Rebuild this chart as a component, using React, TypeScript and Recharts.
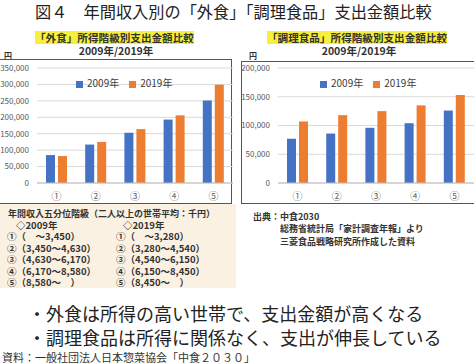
import { Bar, BarChart, CartesianGrid, Legend, XAxis, YAxis } from "recharts";

const categories = ["①", "②", "③", "④", "⑤"];
const gaishoku2009 = [85000, 117000, 153000, 193000, 251000];
const gaishoku2019 = [82000, 125000, 164000, 206000, 299000];
const chouri2009 = [77000, 86000, 96000, 104000, 126000];
const chouri2019 = [107000, 118000, 125000, 135000, 153000];
const gaishokuTicks = [0, 50000, 100000, 150000, 200000, 250000, 300000, 350000];
const chouriTicks = [0, 50000, 100000, 150000, 200000];

const incomeRows2009 = ["①（　～3,450）", "②（3,450～4,630）", "③（4,630～6,170）", "④（6,170～8,580）", "⑤（8,580～　）"];
const incomeRows2019 = ["①（　～3,280）", "②（3,280～4,540）", "③（4,540～6,150）", "④（6,150～8,450）", "⑤（8,450～　）"];

const BLUE = "#4472C4";
const ORANGE = "#ED7D31";
const FONT = '"Noto Sans CJK JP", "Noto Sans", sans-serif';

const fmt = (v: number) => v.toLocaleString("en-US");

function buildRows(a: number[], b: number[]) {
  return categories.map((c, i) => ({ name: c, y2009: a[i], y2019: b[i] }));
}

interface PanelProps {
  a: number[];
  b: number[];
  ticks: number[];
  width: number;
  axisWidth: number;
  legendLeft: number;
}

function Panel({ a, b, ticks, width, axisWidth, legendLeft }: PanelProps) {
  const data = buildRows(a, b);
  return (
    <BarChart
      width={width}
      height={144}
      data={data}
      margin={{ top: 9, right: 0, bottom: 0, left: 0 }}
      barSize={9}
      barGap={3}
    >
      <CartesianGrid vertical={false} stroke="#d9d9d9" />
      <XAxis
        dataKey="name"
        height={20}
        axisLine={{ stroke: "#bfbfbf" }}
        tickLine={false}
        tick={{ fill: "#595959", fontSize: 10 }}
        tickMargin={4}
      />
      <YAxis
        width={axisWidth}
        domain={[0, ticks[ticks.length - 1]]}
        ticks={ticks}
        axisLine={false}
        tickLine={false}
        tickSize={6}
        tickMargin={2}
        tickFormatter={fmt}
        tick={{ fill: "#595959", fontSize: 8 }}
        interval={0}
      />
      <Legend
        layout="horizontal"
        verticalAlign="middle"
        align="center"
        iconType="square"
        iconSize={7}
        wrapperStyle={{ top: 16, left: legendLeft, width: 90, fontSize: 10, color: "#404040" }}
        formatter={(v) => <span style={{ color: "#404040" }}>{v}</span>}
      />
      <Bar dataKey="y2009" name="2009年" fill={BLUE} isAnimationActive={false} />
      <Bar dataKey="y2019" name="2019年" fill={ORANGE} isAnimationActive={false} />
    </BarChart>
  );
}

const abs = (left: number, top: number, extra: React.CSSProperties = {}): React.CSSProperties => ({
  position: "absolute",
  left,
  top,
  whiteSpace: "nowrap",
  ...extra,
});

const small: React.CSSProperties = { fontSize: 9.5, lineHeight: "11px", fontWeight: 700, color: "#333" };

export default function App() {
  return (
    <div
      style={{
        position: "absolute",
        left: 0,
        top: 0,
        width: 474,
        height: 364,
        overflow: "hidden",
        background: "#ffffff",
        fontFamily: FONT,
        color: "#222",
      }}
    >
      <div style={abs(35, -1, { fontSize: 16.2, lineHeight: "24px" })}>
        図４　年間収入別の「外食」「調理食品」支出金額比較
      </div>

      {/* left panel */}
      <div style={abs(35, 31, { fontSize: 10.6, lineHeight: "13px", fontWeight: 700, background: "#F7F03A", color: "#333" })}>
        「外食」所得階級別支出金額比較
      </div>
      <div style={abs(0, 44, { width: 232, textAlign: "center", fontSize: 10.5, lineHeight: "13px", fontWeight: 700, color: "#333" })}>
        2009年/2019年
      </div>
      <div style={abs(4, 51, { fontSize: 8, lineHeight: "9px", fontWeight: 700, color: "#333" })}>円</div>
      <div style={abs(-1, 59, { width: 233, height: 145, border: "1px solid #555", boxSizing: "border-box" })} />
      <div style={abs(0, 59)}>
        <Panel a={gaishoku2009} b={gaishoku2019} ticks={gaishokuTicks} width={233} axisWidth={37} legendLeft={76} />
      </div>

      {/* right panel */}
      <div style={abs(267, 31, { fontSize: 10.6, lineHeight: "13px", fontWeight: 700, background: "#F7F03A", color: "#333" })}>
        「調理食品」所得階級別支出金額比較
      </div>
      <div style={abs(241, 44, { width: 236, textAlign: "center", fontSize: 10.5, lineHeight: "13px", fontWeight: 700, color: "#333" })}>
        2009年/2019年
      </div>
      <div style={abs(249, 51, { fontSize: 8, lineHeight: "9px", fontWeight: 700, color: "#333" })}>円</div>
      <div style={abs(241, 61, { width: 240, height: 143, border: "1px solid #555", boxSizing: "border-box" })} />
      <div style={abs(240, 59)}>
        <Panel a={chouri2009} b={chouri2019} ticks={chouriTicks} width={234} axisWidth={38} legendLeft={80} />
      </div>

      {/* income classes */}
      <div style={abs(0, 204, { width: 236, height: 84, background: "#FBF1E2" })} />
      <div style={abs(8, 208, { ...small, fontSize: 9 })}>年間収入五分位階級（二人以上の世帯平均：千円）</div>
      <div style={abs(16, 219.5, small)}>◇2009年</div>
      <div style={abs(123, 219.5, small)}>◇2019年</div>
      {incomeRows2009.map((r, i) => (
        <div key={"a" + i} style={abs(7, 231 + i * 11.5, small)}>
          {r}
        </div>
      ))}
      {incomeRows2019.map((r, i) => (
        <div key={"b" + i} style={abs(116, 231 + i * 11.5, small)}>
          {r}
        </div>
      ))}

      {/* source */}
      <div style={abs(253, 211, { ...small, fontSize: 9, lineHeight: "12px" })}>出典：中食2030</div>
      <div style={abs(280, 223, { ...small, fontSize: 9, lineHeight: "12px" })}>総務省統計局「家計調査年報」より</div>
      <div style={abs(280, 236, { ...small, fontSize: 9, lineHeight: "12px" })}>三菱食品戦略研究所作成した資料</div>

      {/* bullets */}
      <div style={abs(28, 301, { fontSize: 18, lineHeight: "24px" })}>・外食は所得の高い世帯で、支出金額が高くなる</div>
      <div style={abs(28, 326, { fontSize: 18, lineHeight: "22px" })}>・調理食品は所得に関係なく、支出が伸長している</div>
      <div style={abs(2, 351, { fontSize: 11, lineHeight: "13px", color: "#333" })}>資料：一般社団法人日本惣菜協会「中食２０３０」</div>
    </div>
  );
}
